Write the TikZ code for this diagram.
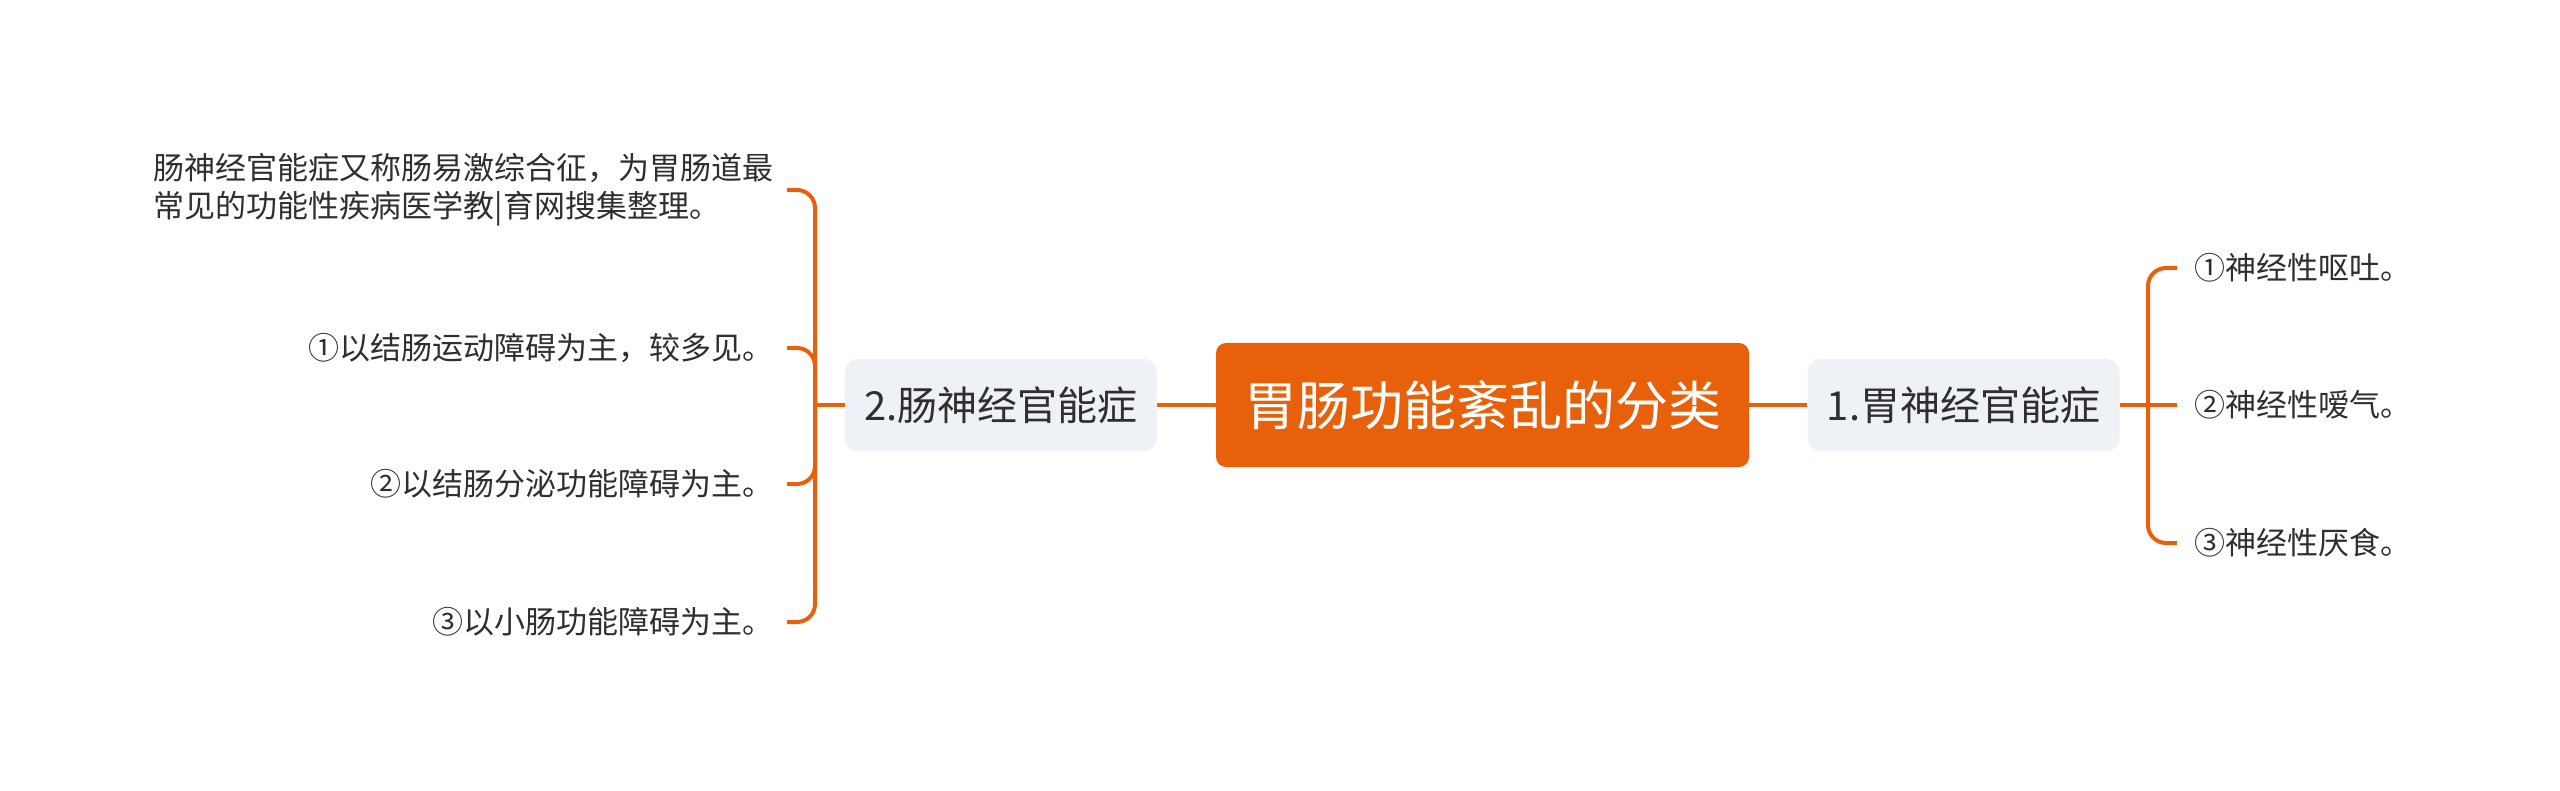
\documentclass[tikz,border=0pt]{standalone}
\usepackage{fontspec}
\setmainfont{Noto Sans CJK SC}
\definecolor{orng}{HTML}{E8600A}
\definecolor{boxgray}{HTML}{EEF1F5}
\definecolor{txt}{HTML}{2F2F2F}
\tikzset{
  conn/.style={draw=orng, line width=4pt},
  rootbox/.style={fill=orng, rounded corners=10pt, minimum width=533pt, minimum height=124pt, inner sep=0pt, text=white, font=\fontsize{53}{60}\selectfont},
  subbox/.style={fill=boxgray, rounded corners=13pt, minimum width=312pt, minimum height=92pt, inner sep=0pt, text=txt, font=\fontsize{40}{46}\selectfont},
  leaf/.style={inner sep=0pt, text=txt, font=\fontsize{31}{38}\selectfont}
}
\begin{document}
\begin{tikzpicture}[x=1pt,y=-1pt]
\useasboundingbox[fill=white] (0,0) rectangle (2560,791);
% main nodes
\node[rootbox] (root) at (1482.5,405) {胃肠功能紊乱的分类};
\node[subbox] (r1) at (1963.5,405) {1.胃神经官能症};
\node[subbox] (l1) at (1001,405) {2.肠神经官能症};
% right leaves
\node[leaf, anchor=west] (ra1) at (2194,268) {①神经性呕吐。};
\node[leaf, anchor=west] (ra2) at (2194,405) {②神经性嗳气。};
\node[leaf, anchor=west] (ra3) at (2194,543) {③神经性厌食。};
% left leaves
\node[leaf, anchor=east, align=left] (lb0) at (774,190) {肠神经官能症又称肠易激综合征，为胃肠道最\\常见的功能性疾病医学教|育网搜集整理。};
\node[leaf, anchor=east] (lb1) at (774,348) {①以结肠运动障碍为主，较多见。};
\node[leaf, anchor=east] (lb2) at (774,484) {②以结肠分泌功能障碍为主。};
\node[leaf, anchor=east] (lb3) at (774,622) {③以小肠功能障碍为主。};
% junctions
\coordinate (rj) at (2148,405);
\coordinate (lj) at (815,405);
% connectors
\draw[conn] (root.east) -- (r1.west);
\draw[conn] (root.west) -- (l1.east);
\draw[conn] (r1.east) -- ([xshift=-17pt]ra2.west);
\draw[conn, rounded corners=18pt] (rj) |- ([xshift=-17pt]ra1.west);
\draw[conn, rounded corners=18pt] (rj) |- ([xshift=-17pt]ra3.west);
\draw[conn] (l1.west) -- (lj);
\draw[conn, rounded corners=18pt] (lj) |- ([xshift=13pt]lb0.east);
\draw[conn, rounded corners=18pt] (lj) |- ([xshift=13pt]lb1.east);
\draw[conn, rounded corners=18pt] (lj) |- ([xshift=13pt]lb2.east);
\draw[conn, rounded corners=18pt] (lj) |- ([xshift=13pt]lb3.east);
\end{tikzpicture}
\end{document}
